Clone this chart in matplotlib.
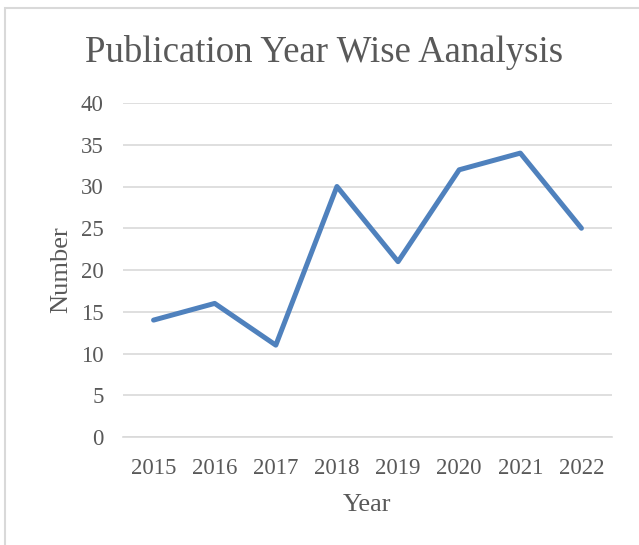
import matplotlib.pyplot as plt
from matplotlib.patches import Rectangle

years = ['2015', '2016', '2017', '2018', '2019', '2020', '2021', '2022']
counts = [14, 16, 11, 30, 21, 32, 34, 25]
y_ticks = [0, 5, 10, 15, 20, 25, 30, 35, 40]

W, H = 639, 545
text_color = '#595959'

plt.rcParams['font.family'] = ['Liberation Serif', 'DejaVu Serif']

fig = plt.figure(figsize=(W / 100, H / 100), dpi=100)

# chart area frame
fig.patches.append(Rectangle((5 / W, -0.1), 1.2, 1 - 8 / H + 0.1, transform=fig.transFigure,
                             fill=False, edgecolor='#d9d9d9', linewidth=1.5))

ax = fig.add_axes([123 / W, 1 - 437 / H, (612 - 123) / W, (437 - 103) / H])
x = list(range(len(years)))
ax.plot(x, counts, color='#4f81bd', linewidth=3.6, solid_capstyle='round', solid_joinstyle='round')

ax.set_xlim(-0.5, len(years) - 0.5)
ax.set_ylim(0, 40)
ax.set_xticks(x)
ax.set_xticklabels(years)
ax.set_yticks(y_ticks)
ax.yaxis.grid(True, color='#d9d9d9', linewidth=1.2)
ax.set_axisbelow(True)
for s in ['top', 'right', 'left']:
    ax.spines[s].set_visible(False)
ax.spines['bottom'].set_color('#d9d9d9')
ax.spines['bottom'].set_linewidth(1.2)
ax.tick_params(length=0, labelsize=16.5, colors=text_color)
ax.tick_params(axis='x', pad=15)
ax.tick_params(axis='y', pad=14)

ax.set_xlabel('Year', fontsize=19, color=text_color, labelpad=11)
ax.set_ylabel('Number', fontsize=19, color=text_color, labelpad=6)
fig.text(324 / W, 1 - 52 / H, 'Publication Year Wise Aanalysis', ha='center', va='center',
         fontsize=26.5, color=text_color)

fig.savefig('out.png', dpi=100)
